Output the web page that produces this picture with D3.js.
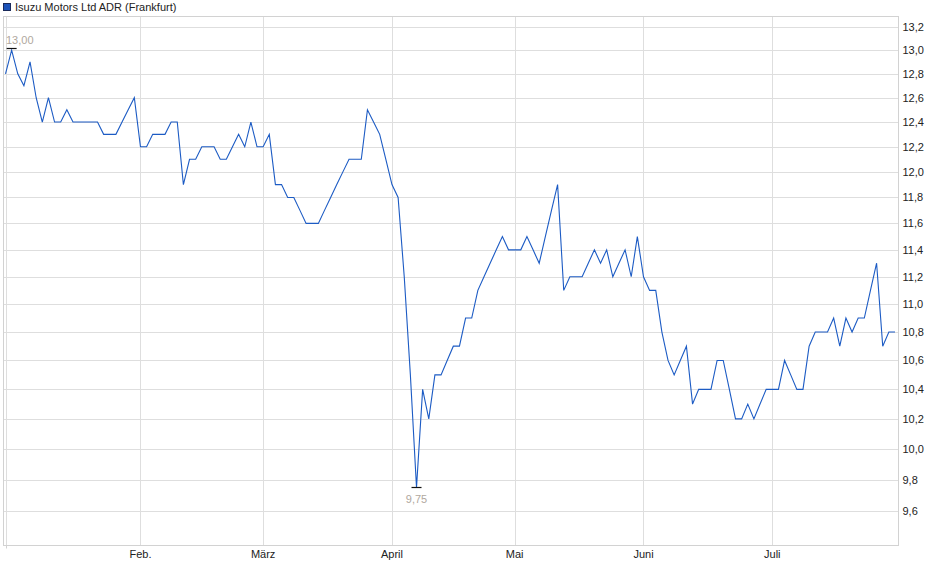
<!DOCTYPE html>
<html>
<head>
<meta charset="utf-8">
<script src="https://cdn.jsdelivr.net/npm/d3@7"></script>
<style>
  body { margin: 0; background: #fff; }
  text { font-family: "Liberation Sans", Arial, sans-serif; }
</style>
</head>
<body>
<script>
//Chart data (daily closing prices, Frankfurt, one value per trading day)
const seriesName = "Isuzu Motors Ltd ADR (Frankfurt)";

const prices = [
  12.8, 13.0, 12.8, 12.7, 12.9, 12.6, 12.4, 12.6, 12.4, 12.4,
  12.5, 12.4, 12.4, 12.4, 12.4, 12.4, 12.3, 12.3, 12.3, 12.4,
  12.5, 12.6, 12.2, 12.2, 12.3, 12.3, 12.3, 12.4, 12.4, 11.9,
  12.1, 12.1, 12.2, 12.2, 12.2, 12.1, 12.1, 12.2, 12.3, 12.2,
  12.4, 12.2, 12.2, 12.3, 11.9, 11.9, 11.8, 11.8, 11.7, 11.6,
  11.6, 11.6, 11.7, 11.8, 11.9, 12.0, 12.1, 12.1, 12.1, 12.5,
  12.4, 12.3, 12.1, 11.9, 11.8, 11.2, 10.5, 9.75, 10.4, 10.2,
  10.5, 10.5, 10.6, 10.7, 10.7, 10.9, 10.9, 11.1, 11.2, 11.3,
  11.4, 11.5, 11.4, 11.4, 11.4, 11.5, 11.4, 11.3, 11.5, 11.7,
  11.9, 11.1, 11.2, 11.2, 11.2, 11.3, 11.4, 11.3, 11.4, 11.2,
  11.3, 11.4, 11.2, 11.5, 11.2, 11.1, 11.1, 10.8, 10.6, 10.5,
  10.6, 10.7, 10.3, 10.4, 10.4, 10.4, 10.6, 10.6, 10.4, 10.2,
  10.2, 10.3, 10.2, 10.3, 10.4, 10.4, 10.4, 10.6, 10.5, 10.4,
  10.4, 10.7, 10.8, 10.8, 10.8, 10.9, 10.7, 10.9, 10.8, 10.9,
  10.9, 11.1, 11.3, 10.7, 10.8, 10.8
];

//first trading day of each month (index into prices) and its label
const monthStartIdx = [0, 22, 42, 63, 83, 104, 125];
const monthLabels   = ["", "Feb.", "März", "April", "Mai", "Juni", "Juli"];

const yTicks = [9.6, 9.8, 10.0, 10.2, 10.4, 10.6, 10.8, 11.0, 11.2,
                11.4, 11.6, 11.8, 12.0, 12.2, 12.4, 12.6, 12.8, 13.0, 13.2];

//--------------------------------
// LAYOUT
//--------------------------------
let width = 940, height = 579;
let plot = {left: 3.5, right: 898.5, top: 16.5, bottom: 545.5};

let lineColor = "#1c5bc4",
    gridColor = "#dedede",
    labelColor = "#b0a89e";

let fmt = (v, p) => d3.format("." + p + "f")(v).replace(".", ",");

let svg = d3.select("body").append("svg")
    .attr("width", width)
    .attr("height", height);

let xScale = d3.scaleLinear()
    .domain([0, prices.length - 1])
    .range([5.5, 895]);

//log scale on price axis
let yScale = d3.scaleLog()
    .domain([9.388, 13.296])
    .range([plot.bottom - 0.5, plot.top - 0.5]);

//horizontal grid
svg.append("g")
    .selectAll("line")
    .data(yTicks)
    .join("line")
    .attr("x1", plot.left)
    .attr("x2", plot.right)
    .attr("y1", d => Math.round(yScale(d)) + 0.5)
    .attr("y2", d => Math.round(yScale(d)) + 0.5)
    .attr("stroke", gridColor);

//vertical grid at month starts
svg.append("g")
    .selectAll("line")
    .data(monthStartIdx)
    .join("line")
    .attr("x1", d => Math.round(xScale(d)) + 0.5)
    .attr("x2", d => Math.round(xScale(d)) + 0.5)
    .attr("y1", plot.top)
    .attr("y2", plot.bottom)
    .attr("stroke", gridColor);

//frame
svg.append("rect")
    .attr("x", plot.left)
    .attr("y", plot.top)
    .attr("width", plot.right - plot.left)
    .attr("height", plot.bottom - plot.top)
    .attr("fill", "none")
    .attr("stroke", "#d2d2d2");

//small tick under first day
svg.append("line")
    .attr("x1", Math.round(xScale(0)) + 0.5)
    .attr("x2", Math.round(xScale(0)) + 0.5)
    .attr("y1", plot.bottom)
    .attr("y2", plot.bottom + 3)
    .attr("stroke", "#d2d2d2");

//right axis labels
svg.append("g")
    .selectAll("text")
    .data(yTicks)
    .join("text")
    .attr("x", plot.right + 4)
    .attr("y", d => yScale(d))
    .attr("dy", "0.36em")
    .attr("font-size", 11)
    .attr("fill", "#222")
    .text(d => fmt(d, 1));

//month labels
svg.append("g")
    .selectAll("text")
    .data(monthStartIdx)
    .join("text")
    .attr("x", d => xScale(d))
    .attr("y", plot.bottom + 12)
    .attr("text-anchor", "middle")
    .attr("font-size", 11)
    .attr("fill", "#222")
    .text((d, i) => monthLabels[i]);

//price line
let line = d3.line()
    .x((d, i) => xScale(i))
    .y(d => yScale(d));

svg.append("path")
    .datum(prices)
    .attr("d", line)
    .attr("fill", "none")
    .attr("stroke", lineColor)
    .attr("stroke-width", 1.1);

//max / min markers
let maxIdx = d3.maxIndex(prices),
    minIdx = d3.minIndex(prices);

function marker(idx, above) {
  let x = xScale(idx), y = Math.round(yScale(prices[idx])) + (above ? -1.5 : 0.5);
  svg.append("line")
      .attr("x1", x - 5).attr("x2", x + 5)
      .attr("y1", y).attr("y2", y)
      .attr("stroke", "#111")
      .attr("stroke-width", 1.2);
  let t = svg.append("text")
      .attr("x", x)
      .attr("y", above ? y - 5 : y + 15)
      .attr("text-anchor", "middle")
      .attr("font-size", 11)
      .attr("fill", labelColor)
      .text(fmt(prices[idx], 2));
  //keep label inside the plot
  let w = t.node().getComputedTextLength();
  if (x - w / 2 < plot.left + 2) {
    t.attr("text-anchor", "start").attr("x", plot.left + 2.5);
  }
}
marker(maxIdx, true);
marker(minIdx, false);

//legend
svg.append("rect")
    .attr("x", 3.5)
    .attr("y", 3.5)
    .attr("width", 7)
    .attr("height", 7)
    .attr("fill", "#1c52b8")
    .attr("stroke", "#1a2a5a");

svg.append("text")
    .attr("x", 15)
    .attr("y", 11)
    .attr("font-size", 11)
    .attr("fill", "#222")
    .text(seriesName);
</script>
</body>
</html>
